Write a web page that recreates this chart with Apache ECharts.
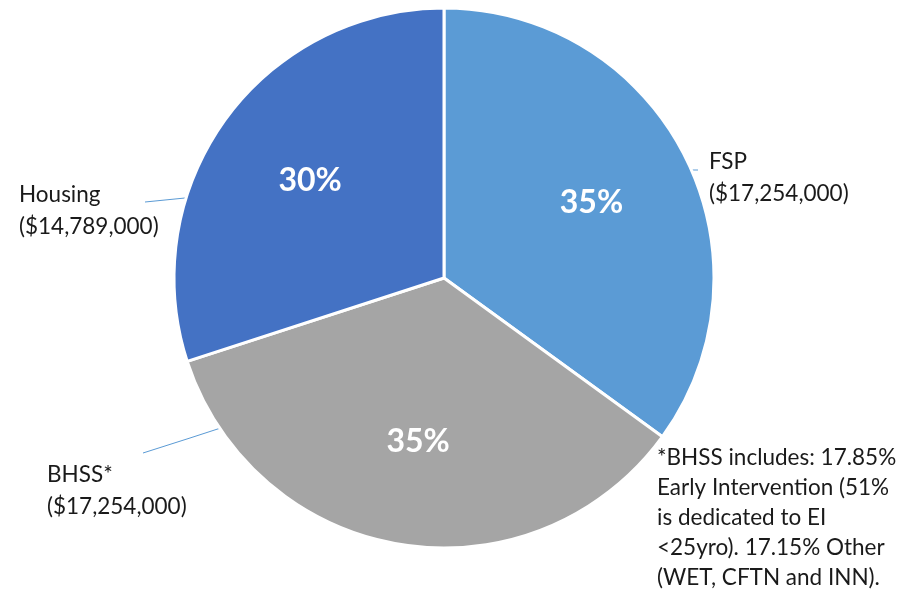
<!DOCTYPE html>
<html>
<head>
<meta charset="utf-8">
<script src="https://cdn.jsdelivr.net/npm/echarts@6/dist/echarts.min.js"></script>
<style>
html,body{margin:0;padding:0;background:#fff;}
#chart{width:922px;height:592px;}
</style>
</head>
<body>
<div id="chart"></div>
<script>
const categories = ['FSP', 'BHSS*', 'Housing'];
const amounts = [17254000, 17254000, 14789000];
const sliceColors = ['#5B9BD5', '#A5A5A5', '#4472C4'];
const footnote = '*BHSS includes: 17.85%\nEarly Intervention (51%\nis dedicated to EI\n<25yro). 17.15% Other\n(WET, CFTN and INN).';

function money(v) {
  return '$' + String(v).replace(/\B(?=(\d{3})+(?!\d))/g, ',');
}

const pieData = categories.map((c, i) => ({
  name: c, value: amounts[i], itemStyle: { color: sliceColors[i] }
}));

// outer label placement (label anchor + leader line), in px
const outerLabels = [
  { x: 709, y: 178, line: [[690, 170], [694, 170], [698, 170]] },
  { x: 47, y: 491, line: [[233, 424], [190, 438], [143, 453]] },
  { x: 19, y: 211, line: [[245, 192], [195, 197], [145, 202]] }
];

const chart = echarts.init(document.getElementById('chart'));
chart.setOption({
  animation: false,
  backgroundColor: '#ffffff',
  title: {
    text: footnote,
    left: 652, top: 438,
    textStyle: { fontFamily: 'Lato', fontSize: 22.5, fontWeight: 'normal', color: '#1a1a1a', lineHeight: 30 }
  },
  series: [
    {
      type: 'pie',
      center: [444, 278],
      radius: 270,
      startAngle: 90,
      clockwise: true,
      itemStyle: { borderColor: '#ffffff', borderWidth: 3 },
      emphasis: { disabled: true },
      data: pieData,
      label: {
        show: true,
        position: 'outside',
        fontFamily: 'Lato',
        fontSize: 22.5,
        color: '#1a1a1a',
        lineHeight: 32,
        formatter: p => p.name + '\n(' + money(p.value) + ')'
      },
      labelLine: { show: true, lineStyle: { color: '#5B9BD5', width: 1 } },
      labelLayout: function (params) {
        const o = outerLabels[params.dataIndex];
        return { x: o.x, y: o.y, align: 'left', verticalAlign: 'middle', labelLinePoints: o.line };
      }
    },
    {
      type: 'pie',
      center: [444, 278],
      radius: [0, 325],
      startAngle: 90,
      clockwise: true,
      silent: true,
      itemStyle: { color: 'rgba(0,0,0,0)', borderWidth: 0 },
      emphasis: { disabled: true },
      data: categories.map((c, i) => ({ name: c, value: amounts[i] })),
      label: {
        show: true,
        position: 'inside',
        fontFamily: 'Lato',
        fontSize: 32,
        fontWeight: 'bold',
        color: '#ffffff',
        formatter: p => Math.round(p.percent) + '%'
      },
      labelLine: { show: false }
    }
  ]
});
</script>
</body>
</html>
